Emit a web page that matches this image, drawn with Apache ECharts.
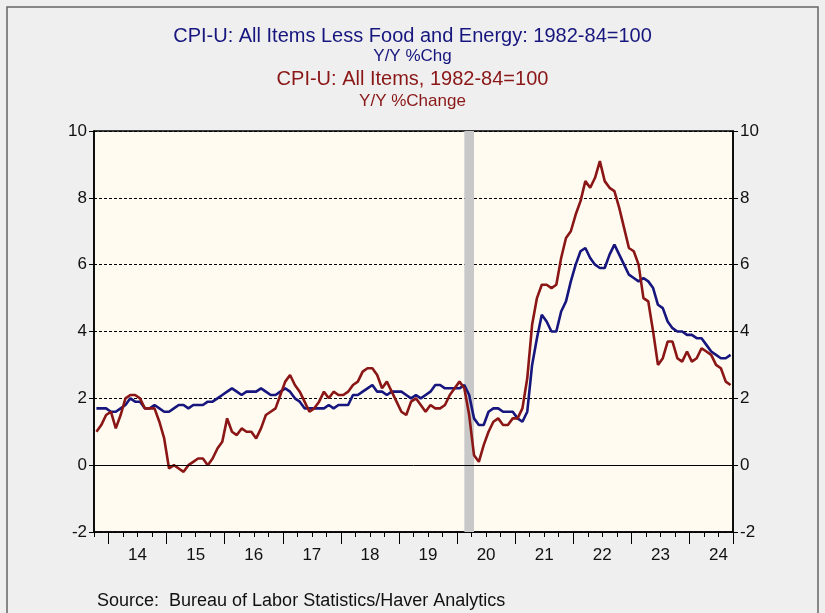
<!DOCTYPE html>
<html><head><meta charset="utf-8">
<script src="https://cdn.jsdelivr.net/npm/echarts@6/dist/echarts.min.js"></script>
<style>html,body{margin:0;padding:0;background:#efefef;} #c{width:825px;height:613px;}</style>
</head><body><div id="c"></div>
<script>
// ---- data (monthly, Oct 2013 .. Sep 2024) ----
const startYear = 2013, startMonth = 10;
const coreCPI = [
  1.7,1.7,1.7,
  1.6,1.6,1.7,1.8,2.0,1.9,1.9,1.7,1.7,1.8,1.7,1.6,
  1.6,1.7,1.8,1.8,1.7,1.8,1.8,1.8,1.9,1.9,2.0,2.1,
  2.2,2.3,2.2,2.1,2.2,2.2,2.2,2.3,2.2,2.1,2.1,2.2,
  2.3,2.2,2.0,1.9,1.7,1.7,1.7,1.7,1.7,1.8,1.7,1.8,
  1.8,1.8,2.1,2.1,2.2,2.3,2.4,2.2,2.2,2.1,2.2,2.2,
  2.2,2.1,2.0,2.1,2.0,2.1,2.2,2.4,2.4,2.3,2.3,2.3,
  2.3,2.4,2.1,1.4,1.2,1.2,1.6,1.7,1.7,1.6,1.6,1.6,
  1.4,1.3,1.6,3.0,3.8,4.5,4.3,4.0,4.0,4.6,4.9,5.5,
  6.0,6.4,6.5,6.2,6.0,5.9,5.9,6.3,6.6,6.3,6.0,5.7,
  5.6,5.5,5.6,5.5,5.3,4.8,4.7,4.3,4.1,4.0,4.0,3.9,
  3.9,3.8,3.8,3.6,3.4,3.3,3.2,3.2,3.3
];
const allCPI = [
  1.0,1.2,1.5,
  1.6,1.1,1.5,2.0,2.1,2.1,2.0,1.7,1.7,1.7,1.3,0.8,
  -0.1,0.0,-0.1,-0.2,0.0,0.1,0.2,0.2,0.0,0.2,0.5,0.7,
  1.4,1.0,0.9,1.1,1.0,1.0,0.8,1.1,1.5,1.6,1.7,2.1,
  2.5,2.7,2.4,2.2,1.9,1.6,1.7,1.9,2.2,2.0,2.2,2.1,
  2.1,2.2,2.4,2.5,2.8,2.9,2.9,2.7,2.3,2.5,2.2,1.9,
  1.6,1.5,1.9,2.0,1.8,1.6,1.8,1.7,1.7,1.8,2.1,2.3,
  2.5,2.3,1.5,0.3,0.1,0.6,1.0,1.3,1.4,1.2,1.2,1.4,
  1.4,1.7,2.6,4.2,5.0,5.4,5.4,5.3,5.4,6.2,6.8,7.0,
  7.5,7.9,8.5,8.3,8.6,9.1,8.5,8.3,8.2,7.7,7.1,6.5,
  6.4,6.0,5.0,4.9,4.0,3.0,3.2,3.7,3.7,3.2,3.1,3.4,
  3.1,3.2,3.5,3.4,3.3,3.0,2.9,2.5,2.4
];
const recession = [[2020, 2], [2020, 4]];
const yMin = -2, yMax = 10, yStep = 2;
const titleCore = 'CPI-U: All Items Less Food and Energy: 1982-84=100';
const subCore = 'Y/Y %Chg';
const titleAll = 'CPI-U: All Items, 1982-84=100';
const subAll = 'Y/Y %Change';
const sourceText = 'Source:  Bureau of Labor Statistics/Haver Analytics';

// ---- helpers ----
const mid = (y, m) => y + (m - 0.5) / 12;           // mid-month position in years
const xStart = startYear + (startMonth - 1) / 12;    // axis start (first month start)
const nMonths = coreCPI.length;
const xEnd = xStart + nMonths / 12;
const firstYear = Math.ceil(xStart);
function toPairs(vals) {
  return vals.map((v, i) => {
    const idx = startMonth - 1 + i;
    return [mid(startYear + Math.floor(idx / 12), (idx % 12) + 1), v];
  });
}

const FONT = 'Liberation Sans, Arial, sans-serif';
const gridLeft = 94, gridRight = 92, gridTop = 131, gridBottom = 81;
const W = 825;
const plotW = W - gridLeft - gridRight;
const left2 = gridLeft + plotW * (firstYear - xStart) / (xEnd - xStart);
const BLUE = '#16167e', RED = '#8a1616';

const chart = echarts.init(document.getElementById('c'), null, {renderer: 'canvas'});
chart.setOption({
  backgroundColor: '#efefef',
  animation: false,
  title: [
    {text: titleCore, left: 'center', top: 21, textStyle: {fontFamily: FONT, fontSize: 20, fontWeight: 'normal', color: BLUE}},
    {text: subCore, left: 'center', top: 43, textStyle: {fontFamily: FONT, fontSize: 17, fontWeight: 'normal', color: BLUE}},
    {text: titleAll, left: 'center', top: 64, textStyle: {fontFamily: FONT, fontSize: 20, fontWeight: 'normal', color: RED}},
    {text: subAll, left: 'center', top: 88, textStyle: {fontFamily: FONT, fontSize: 17, fontWeight: 'normal', color: RED}}
  ],
  graphic: [
    {type: 'rect', shape: {x: 7, y: 7, width: 811, height: 640}, style: {fill: null, stroke: '#666', lineWidth: 1.5}, silent: true},
    {type: 'text', left: 97, top: 592, style: {text: sourceText, font: '18px ' + FONT, fill: '#111'}}
  ],
  grid: [
    {left: gridLeft, right: gridRight, top: gridTop, bottom: gridBottom, show: true, backgroundColor: '#fffbf0', borderColor: '#000', borderWidth: 1.5},
    {left: left2, right: gridRight, top: gridTop, bottom: gridBottom, show: false}
  ],
  xAxis: [
    {type: 'value', gridIndex: 0, min: xStart, max: xEnd, interval: 0.25,
      axisLine: {show: true, onZero: false, lineStyle: {color: '#000', width: 1.5}},
      axisTick: {show: true, length: 5, lineStyle: {color: '#000', width: 1}},
      axisLabel: {show: true, margin: 15, fontFamily: FONT, fontSize: 17, color: '#111',
        formatter: v => Math.abs((v - Math.floor(v)) - 0.5) < 1e-6 ? String(Math.floor(v) % 100).padStart(2, '0') : ''},
      splitLine: {show: false}},
    {type: 'value', gridIndex: 1, min: firstYear, max: xEnd, interval: 1,
      axisLine: {show: false, onZero: false},
      axisTick: {show: true, length: 12, lineStyle: {color: '#000', width: 1}},
      axisLabel: {show: false}, splitLine: {show: false}}
  ],
  yAxis: [
    {type: 'value', gridIndex: 0, position: 'left', min: yMin, max: yMax, interval: yStep,
      axisLine: {show: true, lineStyle: {color: '#000', width: 1.5}},
      axisTick: {show: true, length: 5, lineStyle: {color: '#000'}},
      axisLabel: {fontFamily: FONT, fontSize: 17, color: '#111', margin: 7},
      splitLine: {show: true, lineStyle: {color: '#000', width: 1, type: [3, 2]}}},
    {type: 'value', gridIndex: 0, position: 'right', min: yMin, max: yMax, interval: yStep,
      axisLine: {show: true, lineStyle: {color: '#000', width: 1.5}},
      axisTick: {show: true, length: 5, lineStyle: {color: '#000'}},
      axisLabel: {fontFamily: FONT, fontSize: 17, color: '#111', margin: 7},
      splitLine: {show: false}},
    {type: 'value', gridIndex: 1, min: yMin, max: yMax, show: false}
  ],
  series: [
    {type: 'line', name: 'core', xAxisIndex: 0, yAxisIndex: 0, data: toPairs(coreCPI),
      showSymbol: false, symbol: 'none', lineStyle: {color: BLUE, width: 2.6}, z: 3,
      markArea: {silent: true, itemStyle: {color: '#c8c8c8'},
        data: [[{xAxis: mid(recession[0][0], recession[0][1])}, {xAxis: mid(recession[1][0], recession[1][1])}]]},
      markLine: {silent: true, symbol: 'none', label: {show: false}, lineStyle: {color: '#000', width: 1, type: 'solid'},
        data: [{yAxis: 0}]}},
    {type: 'line', name: 'all', xAxisIndex: 0, yAxisIndex: 0, data: toPairs(allCPI),
      showSymbol: false, symbol: 'none', lineStyle: {color: RED, width: 2.6}, z: 4}
  ]
});
</script></body></html>
